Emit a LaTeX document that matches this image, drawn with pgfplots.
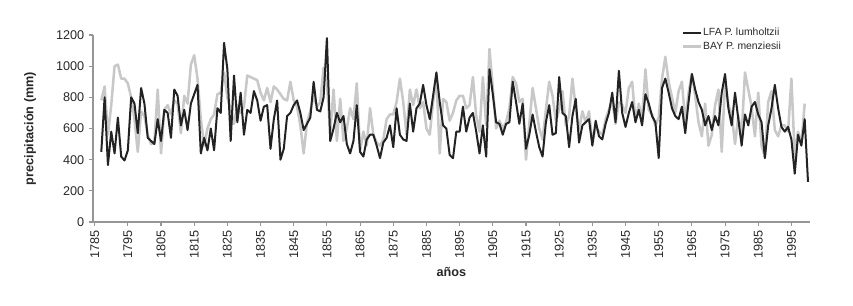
\documentclass[border=0pt]{standalone}
\usepackage{pgfplots}
\usepackage{pgfplotstable}
\pgfplotsset{compat=1.18}
\usepackage{fontspec}
\setmainfont{Liberation Sans}
\definecolor{lfa}{RGB}{35,35,35}
\definecolor{bay}{RGB}{200,200,200}
\definecolor{axisgray}{RGB}{150,150,150}
\definecolor{txt}{RGB}{40,40,40}
\pgfplotstableread{
year lfa bay
1787 450 780
1788 800 870
1789 365 560
1790 580 750
1791 440 1000
1792 670 1010
1793 420 920
1794 395 920
1795 460 890
1796 800 800
1797 760 660
1798 570 450
1799 860 710
1800 760 680
1801 540 560
1802 520 500
1803 500 510
1804 660 850
1805 520 440
1806 720 720
1807 700 750
1808 540 690
1809 850 780
1810 810 760
1811 620 570
1812 720 810
1813 590 760
1814 760 1010
1815 820 1070
1816 880 920
1817 440 660
1818 540 490
1819 460 600
1820 600 660
1821 460 690
1822 730 820
1823 700 830
1824 1150 960
1825 980 800
1826 520 720
1827 940 630
1828 640 750
1829 830 700
1830 560 740
1831 720 940
1832 700 930
1833 840 920
1834 780 910
1835 650 830
1836 740 780
1837 750 860
1838 470 770
1839 660 870
1840 780 850
1841 400 820
1842 470 790
1843 680 780
1844 700 900
1845 750 780
1846 780 740
1847 700 620
1848 590 440
1849 630 640
1850 670 710
1851 900 810
1852 720 740
1853 710 770
1854 800 990
1855 1180 900
1856 520 570
1857 600 850
1858 700 520
1859 640 790
1860 680 520
1861 500 600
1862 440 730
1863 520 660
1864 750 890
1865 450 460
1866 420 580
1867 530 490
1868 560 730
1869 560 560
1870 490 510
1871 410 490
1872 510 530
1873 540 660
1874 620 690
1875 480 690
1876 730 770
1877 560 920
1878 530 770
1879 520 560
1880 760 850
1881 580 750
1882 730 850
1883 760 730
1884 880 770
1885 750 600
1886 660 560
1887 810 770
1888 960 930
1889 770 440
1890 620 790
1891 600 770
1892 430 650
1893 410 700
1894 580 780
1895 580 810
1896 740 810
1897 580 730
1898 670 750
1899 700 930
1900 580 680
1901 440 580
1902 620 930
1903 420 620
1904 980 1110
1905 820 860
1906 640 600
1907 630 650
1908 560 600
1909 630 640
1910 640 730
1911 900 930
1912 770 890
1913 630 770
1914 760 790
1915 470 400
1916 560 630
1917 690 860
1918 580 730
1919 480 600
1920 420 530
1921 640 720
1922 750 900
1923 560 810
1924 570 650
1925 930 720
1926 700 840
1927 680 620
1928 480 680
1929 680 920
1930 790 730
1931 510 590
1932 620 710
1933 640 640
1934 660 710
1935 490 510
1936 650 610
1937 550 580
1938 530 560
1939 630 660
1940 700 720
1941 830 780
1942 640 630
1943 970 770
1944 700 750
1945 610 700
1946 700 860
1947 770 900
1948 640 650
1949 720 760
1950 620 660
1951 820 980
1952 760 720
1953 680 690
1954 640 620
1955 410 670
1956 860 920
1957 920 1060
1958 830 900
1959 730 800
1960 680 700
1961 660 840
1962 740 900
1963 570 640
1964 770 830
1965 950 950
1966 850 810
1967 770 640
1968 720 550
1969 620 760
1970 680 490
1971 590 560
1972 680 750
1973 620 850
1974 830 450
1975 950 900
1976 730 750
1977 620 690
1978 830 500
1979 660 680
1980 490 560
1981 690 960
1982 620 850
1983 740 740
1984 770 550
1985 690 830
1986 640 490
1987 410 420
1988 620 770
1989 730 840
1990 880 590
1991 730 550
1992 610 620
1993 580 620
1994 610 580
1995 530 920
1996 310 420
1997 560 580
1998 490 500
1999 660 760
2000 257 nan
}\datatable
\begin{document}
\begin{tikzpicture}
\useasboundingbox (-69.75pt,-62.25pt) rectangle (570pt,166.5pt);
\begin{axis}[
  at={(0pt,0pt)}, anchor=south west,
  scale only axis,
  width=537.5pt, height=140.25pt,
  xmin=1784.5, xmax=2000.5,
  ymin=0, ymax=1200,
  axis x line=bottom, axis y line=left,
  axis line style={-, draw=axisgray, line width=0.8pt},
  every tick/.style={draw=axisgray, line width=0.8pt},
  tick align=outside,
  major tick length=3pt,
  xtick={1785,1795,...,1995},
  xticklabels={1785,1795,1805,1815,1825,1835,1845,1855,1865,1875,1885,1895,1905,1915,1925,1935,1945,1955,1965,1975,1985,1995},
  ytick={0,200,...,1200},
  /pgf/number format/assume math mode=true,
  /pgf/number format/set thousands separator={},
  tick label style={font=\fontsize{9.5}{11}\selectfont, text=txt},
  xticklabel style={rotate=90, anchor=east},
  xlabel={\textbf{años}},
  ylabel={\textbf{precipitación (mm)}},
  label style={font=\fontsize{9.5}{11}\selectfont, text=txt},
  xlabel style={at={(axis description cs:0.5,0)}, anchor=center, yshift=-37.5pt},
  ylabel style={at={(axis description cs:-0.0879,0.5)}, anchor=center},
  clip=false,
  legend cell align=left,
  legend image code/.code={\draw[#1] (0pt,0pt) -- (13.5pt,0pt);},
  legend style={at={(axis description cs:0.8215,1.045)}, anchor=north west,
    draw=none, fill=none, inner sep=0pt, row sep=2pt,
    font=\fontsize{7.8}{9}\selectfont, text=txt,
    nodes={inner sep=0.5pt, text height=6pt, text depth=1.5pt}},
]
\addplot[bay, line width=1.9pt, line join=round, forget plot] table[x=year, y=bay] {\datatable};
\addplot[lfa, line width=1.5pt, line join=round] table[x=year, y=lfa] {\datatable};
\addlegendentry{LFA P. lumholtzii}
\addlegendimage{bay, line width=1.9pt}
\addlegendentry{BAY P. menziesii}
\end{axis}
\end{tikzpicture}
\end{document}
